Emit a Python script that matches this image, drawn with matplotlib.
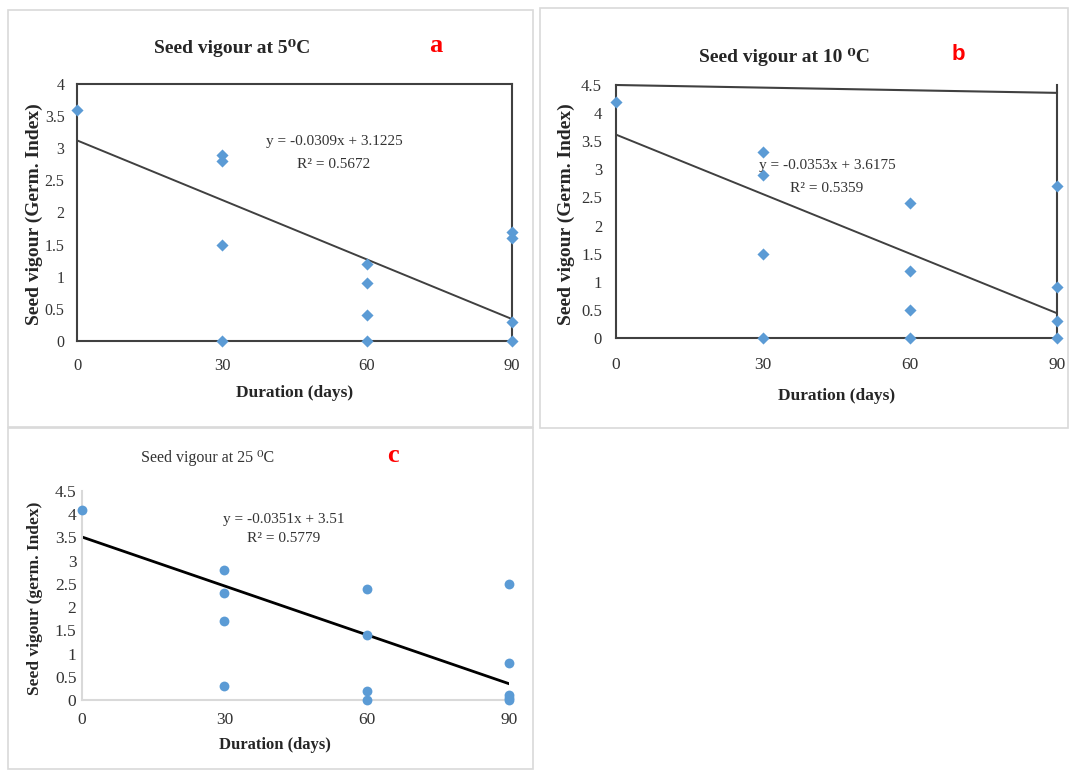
import matplotlib
matplotlib.use("Agg")
import matplotlib.pyplot as plt
import numpy as np
from matplotlib.patches import Rectangle

plt.rcParams['font.family'] = ['Liberation Serif', 'DejaVu Serif']

# data
days_a = [0, 30, 30, 30, 30, 60, 60, 60, 60, 90, 90, 90, 90]
vigour_a = [3.6, 2.9, 2.8, 1.5, 0, 1.2, 0.9, 0.4, 0, 1.7, 1.6, 0.3, 0]
fit_a = (-0.0309, 3.1225, 0.5672)

days_b = [0, 30, 30, 30, 30, 60, 60, 60, 60, 90, 90, 90, 90]
vigour_b = [4.2, 3.3, 2.9, 1.5, 0, 2.4, 1.2, 0.5, 0, 2.7, 0.9, 0.3, 0]
fit_b = (-0.0353, 3.6175, 0.5359)

days_c = [0, 30, 30, 30, 30, 60, 60, 60, 60, 90, 90, 90, 90, 90]
vigour_c = [4.1, 2.8, 2.3, 1.7, 0.3, 2.4, 1.4, 0.2, 0, 2.5, 0.8, 0.1, 0.05, 0]
fit_c = (-0.0351, 3.51, 0.5779)

x_ticks = [0, 30, 60, 90]
y_ticks_a = [0, 0.5, 1, 1.5, 2, 2.5, 3, 3.5, 4]
y_ticks_bc = [0, 0.5, 1, 1.5, 2, 2.5, 3, 3.5, 4, 4.5]

W, H = 1070, 770
blue = '#5B9BD5'
dark = '#404040'

fig = plt.figure(figsize=(W / 100, H / 100), dpi=100)


def fx(px):
    return px / W


def fy(py):
    return 1 - py / H


def axes_px(left, top, right, bottom):
    return fig.add_axes([fx(left), fy(bottom), (right - left) / W, (bottom - top) / H])


def tick_fmt(v):
    return ('%g' % v)


def equation(x, y1, y2, line1, line2):
    fig.text(fx(x), fy(y1), line1, ha='center', va='center', fontsize=11, color='#333333')
    fig.text(fx(x), fy(y2), line2, ha='center', va='center', fontsize=11, color='#333333')


# panel frames
for (l, t, r, b) in [(8, 10, 533, 427), (540, 8, 1068, 428), (8, 428, 533, 769)]:
    fig.patches.append(Rectangle((fx(l), fy(b)), (r - l) / W, (b - t) / H,
                                 transform=fig.transFigure, fill=False,
                                 edgecolor='#d9d9d9', linewidth=1.2))

xs = np.array([0, 90])

# ---------- a ----------
ax = axes_px(77, 84, 512, 341)
ax.scatter(days_a, vigour_a, marker='D', s=38, color=blue, zorder=3, clip_on=False, linewidths=0)
ax.plot(xs, fit_a[0] * xs + fit_a[1], color=dark, lw=1.4, zorder=2)
ax.set_xlim(0, 90)
ax.set_ylim(0, 4)
ax.set_xticks(x_ticks)
ax.set_yticks(y_ticks_a)
ax.set_yticklabels([tick_fmt(v) for v in y_ticks_a])
for s in ax.spines.values():
    s.set_color(dark)
    s.set_linewidth(1.5)
ax.tick_params(axis='y', length=0, pad=9, labelsize=11.5, labelcolor='#333333')
ax.tick_params(axis='x', length=0, pad=12, labelsize=12, labelcolor='#333333')

fig.text(fx(232), fy(48), 'Seed vigour at 5\u2070C', ha='center', va='center',
         fontsize=14, fontweight='bold', color='#262626')
fig.text(fx(436), fy(46), 'a', ha='center', va='center', fontsize=19,
         fontweight='bold', color='red')
fig.text(fx(34), fy(214), 'Seed vigour (Germ. Index)', rotation=90, ha='center', va='center',
         fontsize=14, fontweight='bold', color='#262626')
fig.text(fx(295), fy(393), 'Duration (days)', ha='center', va='center',
         fontsize=12.5, fontweight='bold', color='#262626')
equation(334, 142, 164, 'y = %.4fx + %.4f' % fit_a[:2], 'R\u00b2 = %.4f' % fit_a[2])

# ---------- b ----------
ax = axes_px(616, 85, 1057, 338)
ax.scatter(days_b, vigour_b, marker='D', s=38, color=blue, zorder=3, clip_on=False, linewidths=0)
ax.plot(xs, fit_b[0] * xs + fit_b[1], color=dark, lw=1.4, zorder=2)
ax.plot([0, 90], [4.5, 4.36], color=dark, lw=1.5, clip_on=False)
ax.set_xlim(0, 90)
ax.set_ylim(0, 4.5)
ax.set_xticks(x_ticks)
ax.set_yticks(y_ticks_bc)
ax.set_yticklabels([tick_fmt(v) for v in y_ticks_bc])
ax.spines['top'].set_visible(False)
for k in ['left', 'right', 'bottom']:
    ax.spines[k].set_color(dark)
    ax.spines[k].set_linewidth(1.5)
ax.tick_params(axis='y', length=0, pad=10, labelsize=12, labelcolor='#333333')
ax.tick_params(axis='x', length=0, pad=14, labelsize=12.5, labelcolor='#333333')

fig.text(fx(784), fy(57), 'Seed vigour at 10 \u2070C', ha='center', va='center',
         fontsize=14, fontweight='bold', color='#262626')
fig.text(fx(958), fy(55), 'b', ha='center', va='center', fontsize=16,
         fontweight='bold', color='red', family=['Liberation Sans', 'DejaVu Sans'])
fig.text(fx(566), fy(214), 'Seed vigour (Germ. Index)', rotation=90, ha='center', va='center',
         fontsize=14, fontweight='bold', color='#262626')
fig.text(fx(837), fy(396), 'Duration (days)', ha='center', va='center',
         fontsize=12.5, fontweight='bold', color='#262626')
equation(827, 166, 189, 'y = %.4fx + %.4f' % fit_b[:2], 'R\u00b2 = %.4f' % fit_b[2])

# ---------- c ----------
ax = axes_px(82, 491, 509, 700)
ax.scatter(days_c, vigour_c, marker='o', s=50, color=blue, zorder=3, clip_on=False, linewidths=0)
ax.plot(xs, fit_c[0] * xs + fit_c[1], color='black', lw=2, zorder=2)
ax.set_xlim(0, 90)
ax.set_ylim(0, 4.5)
ax.set_xticks(x_ticks)
ax.set_yticks(y_ticks_bc)
ax.set_yticklabels([tick_fmt(v) for v in y_ticks_bc])
ax.spines['top'].set_visible(False)
ax.spines['right'].set_visible(False)
for k in ['left', 'bottom']:
    ax.spines[k].set_color('#d9d9d9')
    ax.spines[k].set_linewidth(1.5)
ax.tick_params(axis='y', length=0, pad=4, labelsize=12.5, labelcolor='#333333')
ax.tick_params(axis='x', length=0, pad=9, labelsize=12.5, labelcolor='#333333')

fig.text(fx(208), fy(458), 'Seed vigour at 25 \u2070C', ha='center', va='center',
         fontsize=11.5, color='#333333')
fig.text(fx(393), fy(456), 'c', ha='center', va='center', fontsize=19,
         fontweight='bold', color='red')
fig.text(fx(35), fy(598), 'Seed vigour (germ. Index)', rotation=90, ha='center', va='center',
         fontsize=12.5, fontweight='bold', color='#262626')
fig.text(fx(275), fy(745), 'Duration (days)', ha='center', va='center',
         fontsize=12, fontweight='bold', color='#262626')
equation(284, 519, 538, 'y = %.4fx + %.2f' % fit_c[:2], 'R\u00b2 = %.4f' % fit_c[2])

fig.savefig('out.png', dpi=100)
